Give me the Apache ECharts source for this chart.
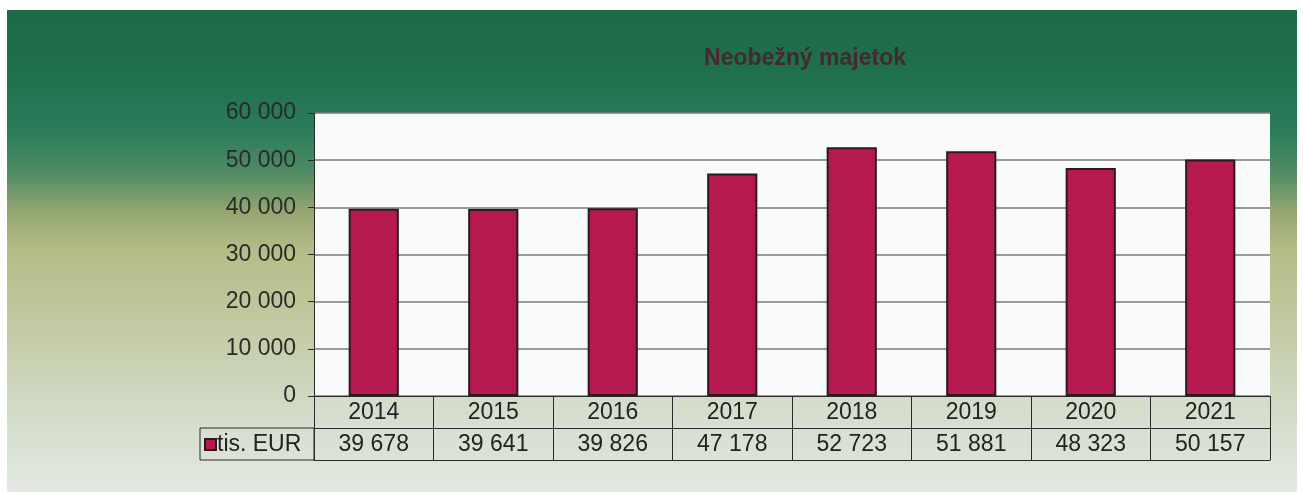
<!DOCTYPE html>
<html><head><meta charset="utf-8">
<script src="https://cdn.jsdelivr.net/npm/echarts@6/dist/echarts.min.js"></script>
<style>html,body{margin:0;padding:0;background:#fff}#c{width:1303px;height:494px}</style>
</head><body><div id="c"></div>
<script>
const title = 'Neobežný majetok';
const seriesName = 'tis. EUR';
const years = ['2014','2015','2016','2017','2018','2019','2020','2021'];
const values = [39678, 39641, 39826, 47178, 52723, 51881, 48323, 50157];
const yMin = 0, yMax = 60000, yStep = 10000;

const fmt = v => String(v).replace(/\B(?=(\d{3})+(?!\d))/g, ' ');
const FONT = '"Liberation Sans", Arial, sans-serif';
const FS = 23;
const G = {left: 314, right: 33, top: 113, bottom: 98};
const rowH = 32;

const chart = echarts.init(document.getElementById('c'));
const tableAxisBase = {
  type: 'category', gridIndex: 0, position: 'bottom', boundaryGap: true,
  axisLine: {show: true, lineStyle: {color: '#2a2a2a', width: 1}},
  splitLine: {show: false}
};
chart.setOption({
  backgroundColor: '#ffffff',
  animation: false,
  textStyle: {fontFamily: FONT},
  graphic: [
    {type: 'rect', z: -10, silent: true,
     shape: {x: 7, y: 10, width: 1290, height: 482},
     style: {fill: new echarts.graphic.LinearGradient(0, 0, 0, 1, [
       {offset: 0, color: '#1c6a48'},
       {offset: 0.12, color: '#1f6e4c'},
       {offset: 0.25, color: '#2a7c5a'},
       {offset: 0.34, color: '#528c64'},
       {offset: 0.42, color: '#96a673'},
       {offset: 0.5, color: '#b6bc87'},
       {offset: 0.62, color: '#bfc69c'},
       {offset: 0.78, color: '#cdd6bd'},
       {offset: 0.9, color: '#d9e1d3'},
       {offset: 1, color: '#e3eae3'}
     ])}},
    {type: 'rect', z: -5, silent: true,
     shape: {x: G.left, y: 494 - G.bottom, width: 1303 - G.left - G.right, height: rowH * 2},
     style: {fill: 'rgba(220,225,210,0.45)'}},
    {type: 'rect', z: -5, silent: true,
     shape: {x: 200, y: 494 - G.bottom + rowH, width: G.left - 200, height: rowH},
     style: {fill: 'rgba(220,225,210,0.45)', stroke: '#2a2a2a', lineWidth: 1}}
  ],
  title: {
    text: title, left: 800, top: 42, textAlign: 'center',
    textStyle: {fontFamily: FONT, fontSize: 23, fontWeight: 'bold', color: '#44292d'}
  },
  legend: {
    data: [seriesName], left: 204, top: 494 - G.bottom + rowH + 5,
    icon: 'rect', itemWidth: 11, itemHeight: 11, itemGap: 2, padding: 0,
    textStyle: {fontFamily: FONT, fontSize: FS, color: '#222', padding: [2, 0, 0, -4]}
  },
  grid: {left: G.left, right: G.right, top: G.top, bottom: G.bottom,
         show: true, backgroundColor: '#f9fbfa', borderWidth: 0},
  xAxis: [
    Object.assign({}, tableAxisBase, {
      data: years,
      axisTick: {show: true, alignWithLabel: false, length: rowH, lineStyle: {color: '#2a2a2a'}},
      axisLabel: {fontFamily: FONT, fontSize: FS, color: '#222', margin: 5}
    }),
    Object.assign({}, tableAxisBase, {
      data: values.map(fmt), offset: rowH,
      axisTick: {show: true, alignWithLabel: false, length: rowH, lineStyle: {color: '#2a2a2a'}},
      axisLabel: {fontFamily: FONT, fontSize: FS, color: '#222', margin: 5}
    }),
    Object.assign({}, tableAxisBase, {
      data: years, offset: rowH * 2,
      axisTick: {show: false}, axisLabel: {show: false}
    })
  ],
  yAxis: {
    type: 'value', min: yMin, max: yMax, interval: yStep,
    axisLine: {show: true, lineStyle: {color: '#2a2a2a'}},
    axisTick: {show: true, length: 6, lineStyle: {color: '#2a2a2a'}},
    axisLabel: {fontFamily: FONT, fontSize: FS, color: '#2a2a2a', margin: 18, formatter: fmt},
    splitLine: {show: true, lineStyle: {color: '#7a7a7a', width: 1.5}}
  },
  series: [{
    name: seriesName, type: 'bar', data: values, xAxisIndex: 0,
    barWidth: '42%',
    itemStyle: {color: '#b5194f', borderColor: '#2a1c1e', borderWidth: 2}
  }]
});
</script></body></html>
